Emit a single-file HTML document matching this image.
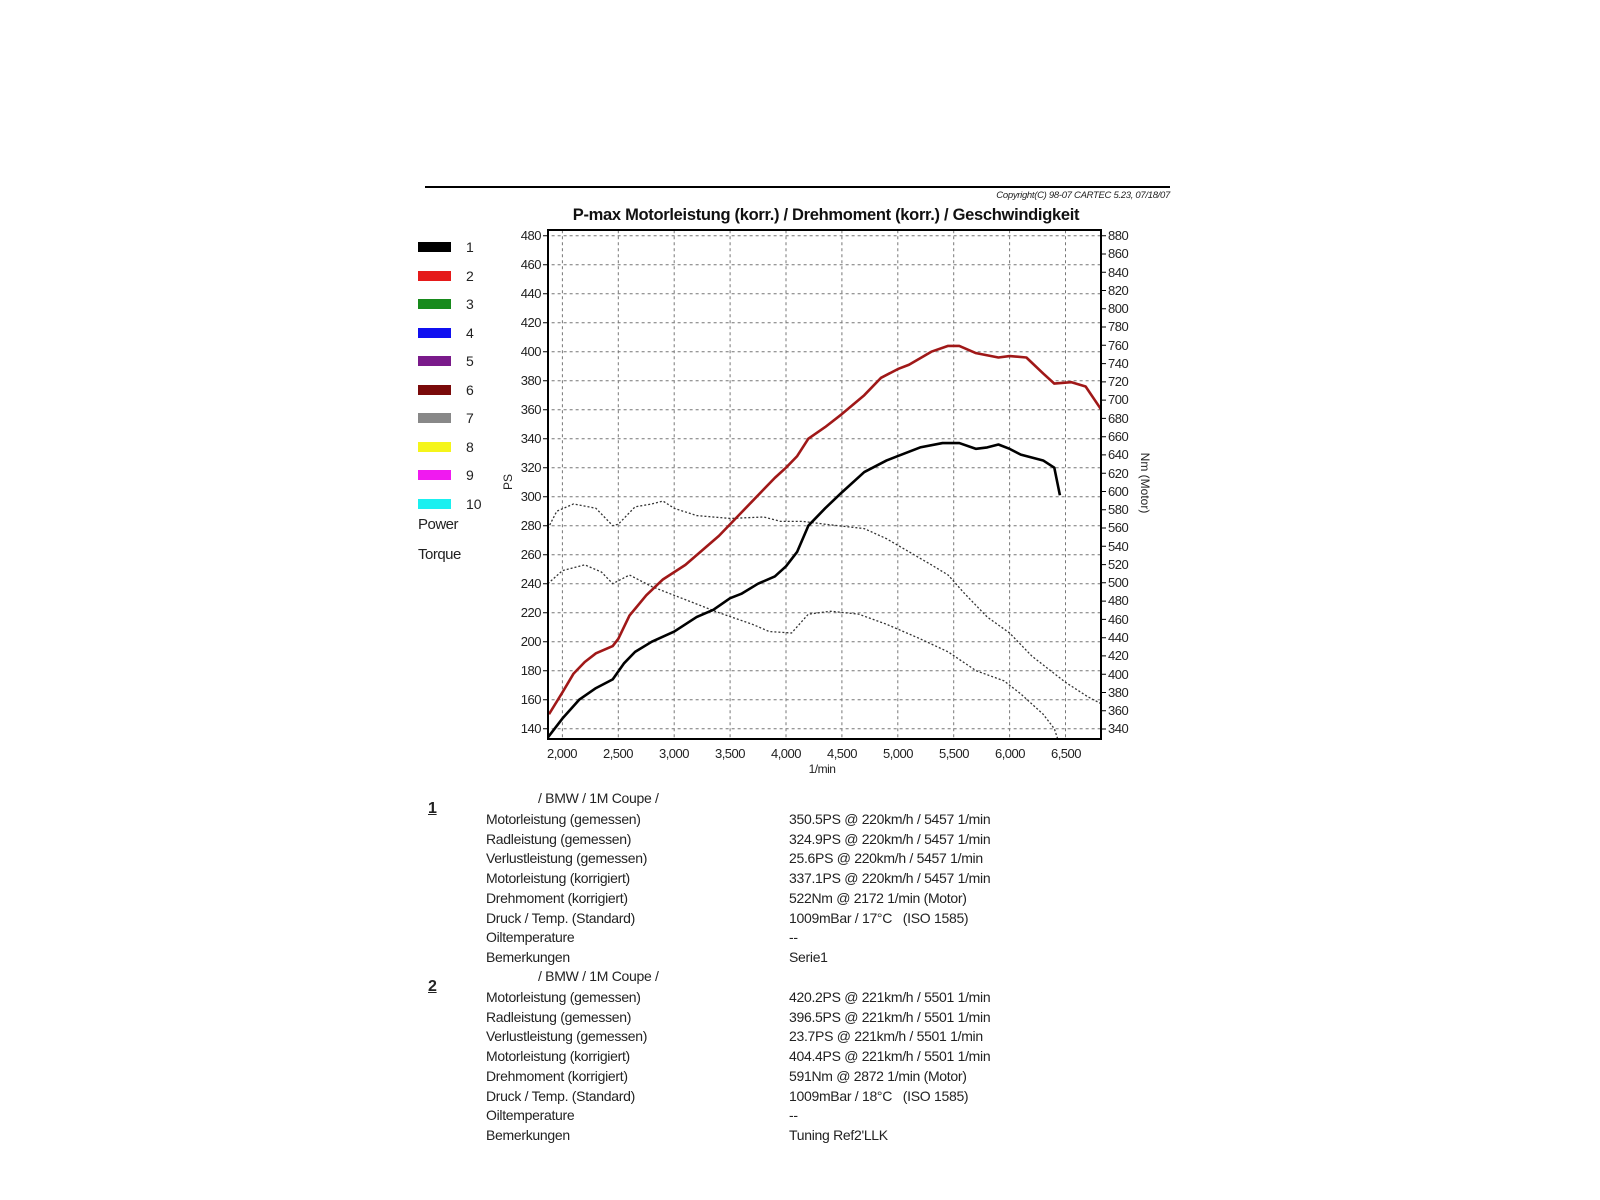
<!DOCTYPE html>
<html><head><meta charset="utf-8"><style>
html,body{margin:0;padding:0;background:#fff;width:1600px;height:1200px;overflow:hidden;font-family:"Liberation Sans",sans-serif;}
.t{position:absolute;font-size:14px;color:#222;letter-spacing:-0.3px;white-space:nowrap;line-height:1;}
</style></head><body>
<svg width="1600" height="1200" style="position:absolute;left:0;top:0" font-family="Liberation Sans, sans-serif">
<line x1="425" y1="187" x2="1170" y2="187" stroke="#000" stroke-width="2"/>
<text x="1170" y="198" font-size="9.5" font-style="italic" text-anchor="end" fill="#222" letter-spacing="-0.3">Copyright(C) 98-07 CARTEC 5.23, 07/18/07</text>
<text x="826" y="220" font-size="16.5" font-weight="bold" text-anchor="middle" fill="#111" letter-spacing="-0.3">P-max Motorleistung (korr.) / Drehmoment (korr.) / Geschwindigkeit</text>
<g>
<rect x="418" y="242" width="33" height="10" fill="#000"/>
<rect x="418" y="271" width="33" height="10" fill="#e51a1a"/>
<rect x="418" y="299" width="33" height="10" fill="#178a1c"/>
<rect x="418" y="328" width="33" height="10" fill="#1010f0"/>
<rect x="418" y="356" width="33" height="10" fill="#7a1a8a"/>
<rect x="418" y="385" width="33" height="10" fill="#7a0a0a"/>
<rect x="418" y="413" width="33" height="10" fill="#888"/>
<rect x="418" y="442" width="33" height="10" fill="#f5f51a"/>
<rect x="418" y="470" width="33" height="10" fill="#f01af0"/>
<rect x="418" y="499" width="33" height="10" fill="#1af0f0"/>
</g>
<g font-size="14" fill="#222">
<text x="466" y="252">1</text><text x="466" y="281">2</text><text x="466" y="309">3</text><text x="466" y="338">4</text><text x="466" y="366">5</text><text x="466" y="395">6</text><text x="466" y="423">7</text><text x="466" y="452">8</text><text x="466" y="480">9</text><text x="466" y="509">10</text>
<text x="418" y="529" font-size="15" letter-spacing="-0.5">Power</text>
<text x="418" y="559" font-size="15" letter-spacing="-0.5">Torque</text>
</g>
<text x="0" y="0" font-size="12" fill="#222" transform="translate(512,482) rotate(-90)" text-anchor="middle">PS</text>
<text x="0" y="0" font-size="12" fill="#222" transform="translate(1141,483) rotate(90)" text-anchor="middle">Nm (Motor)</text>
<defs><clipPath id="c"><rect x="548" y="230" width="553" height="509"/></clipPath></defs>
<g clip-path="url(#c)">
<g transform="matrix(0.1118 0 0 -1.45 338.8 931.7)" fill="none">
<g stroke="#777" stroke-width="1" stroke-dasharray="3 3">
<path vector-effect="non-scaling-stroke" d="M2000 130V490M2500 130V490M3000 130V490M3500 130V490M4000 130V490M4500 130V490M5000 130V490M5500 130V490M6000 130V490M6500 130V490"/>
<path vector-effect="non-scaling-stroke" d="M1850 480H6850M1850 460H6850M1850 440H6850M1850 420H6850M1850 400H6850M1850 380H6850M1850 360H6850M1850 340H6850M1850 320H6850M1850 300H6850M1850 280H6850M1850 260H6850M1850 240H6850M1850 220H6850M1850 200H6850M1850 180H6850M1850 160H6850M1850 140H6850"/>
</g>
<polyline vector-effect="non-scaling-stroke" stroke="#333" stroke-width="1.3" stroke-dasharray="2 2" points="1870,278 1950,290 2100,295 2300,292 2450,280 2500,281 2650,293 2800,295 2900,297 3000,292 3200,287 3500,285 3800,286 3950,283 4150,283 4350,281 4700,278 4900,271 5100,262 5300,253 5450,246 5600,233 5800,217 6000,206 6200,190 6500,172 6700,162 6850,156"/>
<polyline vector-effect="non-scaling-stroke" stroke="#333" stroke-width="1.3" stroke-dasharray="2 2" points="1870,240 2000,249 2200,253 2350,248 2450,240 2600,246 2800,238 3000,232 3200,226 3400,220 3700,212 3850,207 4050,206 4200,219 4400,221 4650,219 4900,212 5200,202 5450,193 5700,180 5950,173 6100,164 6300,150 6400,140 6430,133"/>
<polyline vector-effect="non-scaling-stroke" stroke="#a01818" stroke-width="2.6" stroke-linejoin="round" points="1880,150 2000,165 2100,178 2200,186 2300,192 2450,197 2500,202 2600,218 2750,232 2900,243 3000,248 3100,253 3250,263 3400,273 3500,281 3700,297 3900,313 4000,320 4100,328 4200,340 4350,348 4500,357 4700,370 4850,382 5000,388 5100,391 5300,400 5450,404 5550,404 5700,399 5900,396 6000,397 6150,396 6300,385 6400,378 6550,379 6680,376 6820,360"/>
<polyline vector-effect="non-scaling-stroke" stroke="#000" stroke-width="2.6" stroke-linejoin="round" points="1870,134 2000,147 2150,160 2300,168 2450,174 2550,185 2650,193 2800,200 3000,207 3200,217 3350,222 3500,230 3600,233 3750,240 3900,245 4000,252 4100,262 4200,280 4350,292 4500,303 4700,317 4900,325 5000,328 5200,334 5400,337 5550,337 5700,333 5800,334 5900,336 6000,333 6100,329 6300,325 6400,320 6450,301"/>
</g>
</g>
<rect x="548" y="230" width="553" height="509" fill="none" stroke="#000" stroke-width="2"/>
<g font-size="13" fill="#222" text-anchor="end" letter-spacing="-0.5">
<text x="541" y="240">480</text><text x="541" y="269">460</text><text x="541" y="298">440</text><text x="541" y="327">420</text><text x="541" y="356">400</text><text x="541" y="385">380</text><text x="541" y="414">360</text><text x="541" y="443">340</text><text x="541" y="472">320</text><text x="541" y="501">300</text><text x="541" y="530">280</text><text x="541" y="559">260</text><text x="541" y="588">240</text><text x="541" y="617">220</text><text x="541" y="646">200</text><text x="541" y="675">180</text><text x="541" y="704">160</text><text x="541" y="733">140</text>
</g>
<g font-size="13" fill="#222" letter-spacing="-0.5">
<text x="1108" y="240">880</text><text x="1108" y="258">860</text><text x="1108" y="277">840</text><text x="1108" y="295">820</text><text x="1108" y="313">800</text><text x="1108" y="331">780</text><text x="1108" y="350">760</text><text x="1108" y="368">740</text><text x="1108" y="386">720</text><text x="1108" y="404">700</text><text x="1108" y="423">680</text><text x="1108" y="441">660</text><text x="1108" y="459">640</text><text x="1108" y="478">620</text><text x="1108" y="496">600</text><text x="1108" y="514">580</text><text x="1108" y="532">560</text><text x="1108" y="551">540</text><text x="1108" y="569">520</text><text x="1108" y="587">500</text><text x="1108" y="605">480</text><text x="1108" y="624">460</text><text x="1108" y="642">440</text><text x="1108" y="660">420</text><text x="1108" y="679">400</text><text x="1108" y="697">380</text><text x="1108" y="715">360</text><text x="1108" y="733">340</text>
</g>
<g stroke="#000" stroke-width="1">
<path d="M1101 235.7h5M1101 254h5M1101 272.2h5M1101 290.5h5M1101 308.8h5M1101 327h5M1101 345.3h5M1101 363.6h5M1101 381.9h5M1101 400.1h5M1101 418.4h5M1101 436.7h5M1101 454.9h5M1101 473.2h5M1101 491.5h5M1101 509.8h5M1101 528h5M1101 546.3h5M1101 564.6h5M1101 582.8h5M1101 601.1h5M1101 619.4h5M1101 637.7h5M1101 655.9h5M1101 674.2h5M1101 692.5h5M1101 710.7h5M1101 729h5"/>
<path d="M543 235.7h5M543 264.7h5M543 293.7h5M543 322.7h5M543 351.7h5M543 380.7h5M543 409.7h5M543 438.7h5M543 467.7h5M543 496.7h5M543 525.7h5M543 554.7h5M543 583.7h5M543 612.7h5M543 641.7h5M543 670.7h5M543 699.7h5M543 728.7h5"/>
</g>
<g font-size="13" fill="#222" text-anchor="middle" letter-spacing="-0.5">
<text x="562" y="758">2,000</text><text x="618" y="758">2,500</text><text x="674" y="758">3,000</text><text x="730" y="758">3,500</text><text x="786" y="758">4,000</text><text x="842" y="758">4,500</text><text x="898" y="758">5,000</text><text x="954" y="758">5,500</text><text x="1010" y="758">6,000</text><text x="1066" y="758">6,500</text>
<text x="822" y="773" font-size="12">1/min</text>
</g>
</svg>
<div class="t" style="left:428px;top:801px;font-weight:bold;font-size:16px;text-decoration:underline">1</div>
<div class="t" style="left:538px;top:791px">/ BMW / 1M Coupe /</div>
<div class="t" style="left:486px;top:810px;line-height:19.7px">Motorleistung (gemessen)<br>Radleistung (gemessen)<br>Verlustleistung (gemessen)<br>Motorleistung (korrigiert)<br>Drehmoment (korrigiert)<br>Druck / Temp. (Standard)<br>Oiltemperature<br>Bemerkungen</div>
<div class="t" style="left:789px;top:810px;line-height:19.7px">350.5PS @ 220km/h / 5457 1/min<br>324.9PS @ 220km/h / 5457 1/min<br>25.6PS @ 220km/h / 5457 1/min<br>337.1PS @ 220km/h / 5457 1/min<br>522Nm @ 2172 1/min (Motor)<br>1009mBar / 17°C &nbsp; (ISO 1585)<br>--<br>Serie1</div>
<div class="t" style="left:428px;top:979px;font-weight:bold;font-size:16px;text-decoration:underline">2</div>
<div class="t" style="left:538px;top:969px">/ BMW / 1M Coupe /</div>
<div class="t" style="left:486px;top:988px;line-height:19.7px">Motorleistung (gemessen)<br>Radleistung (gemessen)<br>Verlustleistung (gemessen)<br>Motorleistung (korrigiert)<br>Drehmoment (korrigiert)<br>Druck / Temp. (Standard)<br>Oiltemperature<br>Bemerkungen</div>
<div class="t" style="left:789px;top:988px;line-height:19.7px">420.2PS @ 221km/h / 5501 1/min<br>396.5PS @ 221km/h / 5501 1/min<br>23.7PS @ 221km/h / 5501 1/min<br>404.4PS @ 221km/h / 5501 1/min<br>591Nm @ 2872 1/min (Motor)<br>1009mBar / 18°C &nbsp; (ISO 1585)<br>--<br>Tuning Ref2'LLK</div>
</body></html>
